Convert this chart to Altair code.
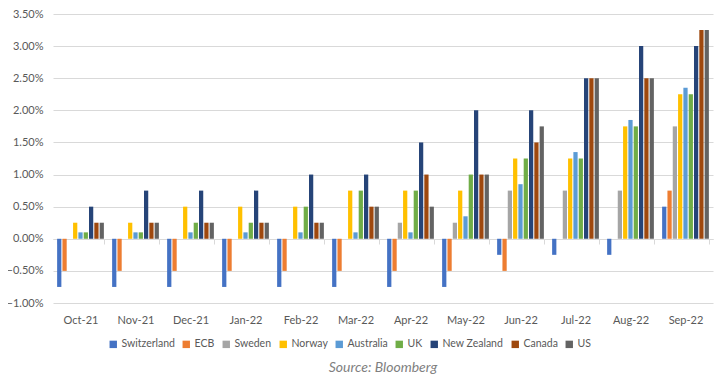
import altair as alt
import pandas as pd

months = ["Oct-21", "Nov-21", "Dec-21", "Jan-22", "Feb-22", "Mar-22",
          "Apr-22", "May-22", "Jun-22", "Jul-22", "Aug-22", "Sep-22"]
countries = ["Switzerland", "ECB", "Sweden", "Norway", "Australia", "UK",
             "New Zealand", "Canada", "US"]
colors = ["#4472C4", "#ED7D31", "#A5A5A5", "#FFC000", "#5B9BD5", "#70AD47",
          "#264478", "#9E480E", "#636363"]

# policy rates in percent
switzerland = [-0.75, -0.75, -0.75, -0.75, -0.75, -0.75, -0.75, -0.75, -0.25, -0.25, -0.25, 0.50]
ecb = [-0.50, -0.50, -0.50, -0.50, -0.50, -0.50, -0.50, -0.50, -0.50, 0.00, 0.00, 0.75]
sweden = [0.00, 0.00, 0.00, 0.00, 0.00, 0.00, 0.25, 0.25, 0.75, 0.75, 0.75, 1.75]
norway = [0.25, 0.25, 0.50, 0.50, 0.50, 0.75, 0.75, 0.75, 1.25, 1.25, 1.75, 2.25]
australia = [0.10, 0.10, 0.10, 0.10, 0.10, 0.10, 0.10, 0.35, 0.85, 1.35, 1.85, 2.35]
uk = [0.10, 0.10, 0.25, 0.25, 0.50, 0.75, 0.75, 1.00, 1.25, 1.25, 1.75, 2.25]
new_zealand = [0.50, 0.75, 0.75, 0.75, 1.00, 1.00, 1.50, 2.00, 2.00, 2.50, 3.00, 3.00]
canada = [0.25, 0.25, 0.25, 0.25, 0.25, 0.50, 1.00, 1.00, 1.50, 2.50, 2.50, 3.25]
us = [0.25, 0.25, 0.25, 0.25, 0.25, 0.50, 0.50, 1.00, 1.75, 2.50, 2.50, 3.25]

series = [switzerland, ecb, sweden, norway, australia, uk, new_zealand, canada, us]
rows = []
for c, vals in zip(countries, series):
    for m, v in zip(months, vals):
        rows.append({"month": m, "country": c, "value": v / 100.0})
df = pd.DataFrame(rows)

y_ticks = [-0.01, -0.005, 0, 0.005, 0.01, 0.015, 0.02, 0.025, 0.03, 0.035]

chart = alt.Chart(df).mark_bar().encode(
    x=alt.X("month:N", sort=months,
            scale=alt.Scale(paddingInner=0.15, paddingOuter=0.075),
            axis=alt.Axis(title=None, labelAngle=0, grid=False,
                          domainColor="#D9D9D9", tickColor="#D9D9D9",
                          tickBand="extent", tickSize=5, offset=-64,
                          labelPadding=70, labelColor="#595959",
                          labelFontSize=11)),
    xOffset=alt.XOffset("country:N", sort=countries,
                        scale=alt.Scale(paddingInner=0.2)),
    y=alt.Y("value:Q", scale=alt.Scale(domain=[-0.01, 0.035], nice=False),
            axis=alt.Axis(title=None, format=".2%", values=y_ticks,
                          domain=False, ticks=False, tickSize=0,
                          labelPadding=10, labelColor="#595959",
                          labelFontSize=11, gridColor="#D9D9D9")),
    color=alt.Color("country:N", sort=countries,
                    scale=alt.Scale(domain=countries, range=colors),
                    legend=alt.Legend(title=None, orient="none",
                                      direction="horizontal",
                                      legendX=55, legendY=325,
                                      symbolType="square", symbolSize=55,
                                      symbolStrokeWidth=0,
                                      labelFontSize=10.5, labelColor="#595959",
                                      columnPadding=6, labelOffset=3)),
).properties(
    width=660, height=289,
    title=alt.TitleParams("Source: Bloomberg", orient="bottom",
                          anchor="middle", fontSize=14, fontStyle="italic",
                          fontWeight="normal", color="#7F7F7F", offset=11),
    autosize=alt.AutoSizeParams(type="none"),
    padding={"left": 45, "top": 6, "right": 5, "bottom": 72},
).configure(font="Lato").configure_view(stroke=None)

chart.save("out.html", embed_options={"renderer": "svg", "actions": False})
